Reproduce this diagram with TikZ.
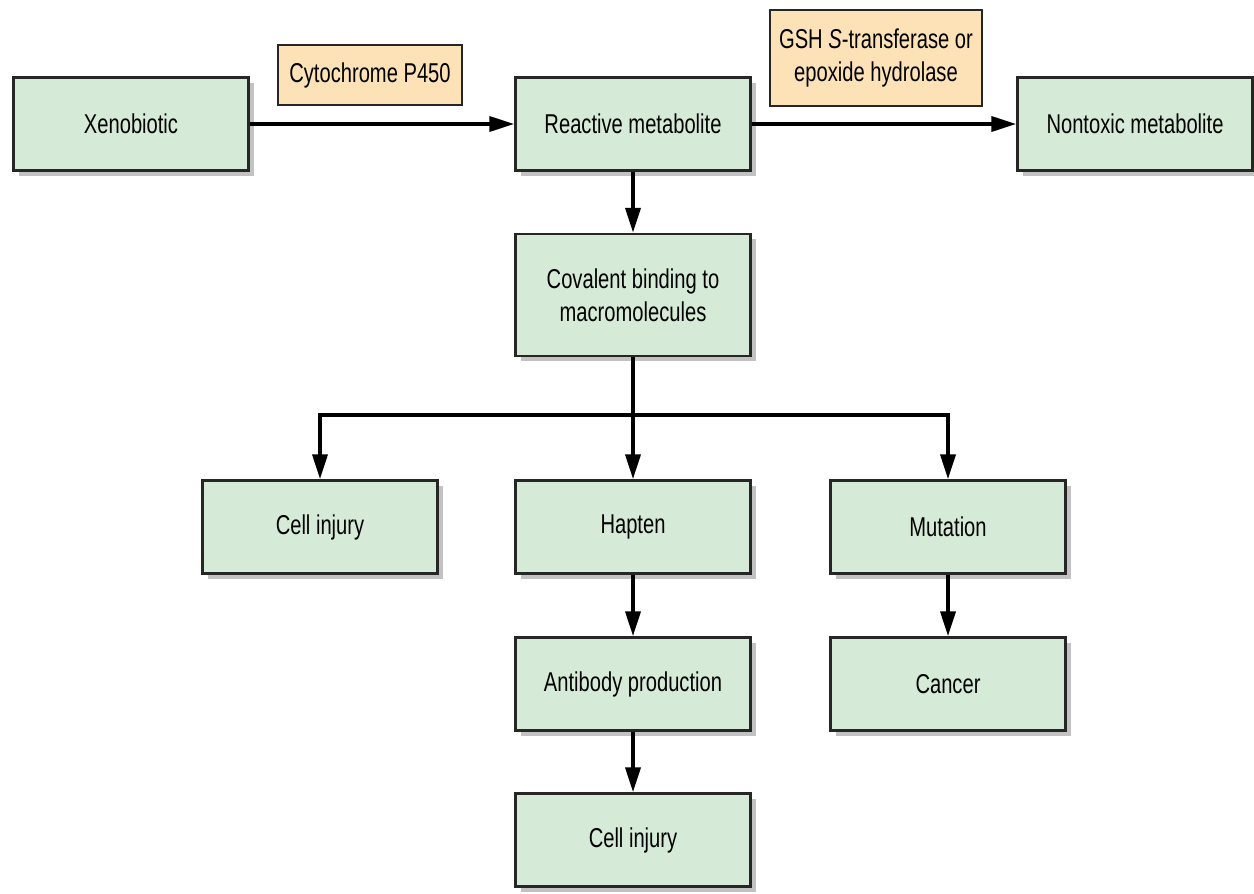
\documentclass[tikz,border=0pt]{standalone}
\usepackage{fontspec}
\setmainfont[FakeStretch=0.74]{Liberation Sans}
\usetikzlibrary{arrows.meta,shadows}

\definecolor{boxgreen}{HTML}{D6EBD7}
\definecolor{enzpeach}{HTML}{FCE2B6}

\begin{document}
\begin{tikzpicture}[
    stage/.style={draw=black!85, line width=1.4pt, fill=boxgreen, minimum width=4.7cm,
        minimum height=1.86cm, inner sep=2pt, align=center, font=\fontsize{15.5}{19}\selectfont,
        drop shadow={shadow xshift=0.1cm, shadow yshift=-0.1cm, fill=black!40, opacity=0.6}},
    enzyme/.style={draw=black!85, line width=1.4pt, fill=enzpeach, inner sep=3pt,
        align=center, font=\fontsize{15.5}{19}\selectfont},
    flow/.style={line width=2.1pt, -{Triangle[length=0.5cm, width=0.3cm]}}
]
            \useasboundingbox (0,0) rectangle (25.08,-17.86);

            % top row
            \node[stage] (xeno) at (2.62,-2.48) {Xenobiotic};
            \node[stage] (react) at (12.66,-2.48) {Reactive metabolite};
            \node[stage] (nontox) at (22.7,-2.48) {Nontoxic metabolite};
            \node[enzyme, minimum width=3.68cm, minimum height=1.2cm] (cyp) at (7.4,-1.5) {Cytochrome P450};
            \node[enzyme, minimum width=4.24cm, minimum height=1.92cm] (gsh) at (17.52,-1.16)
                {GSH \emph{S}-transferase or\\ epoxide hydrolase};

            % binding and its outcomes
            \node[stage, minimum height=2.44cm] (cov) at (12.66,-5.9) {Covalent binding to\\ macromolecules};
            \coordinate (split) at (12.66,-8.3);
            \node[stage] (injA) at (6.4,-10.54) {Cell injury};
            \node[stage] (hap) at (12.66,-10.54) {Hapten};
            \node[stage] (mut) at (18.96,-10.54) {Mutation};
            \node[stage] (ab) at (12.66,-13.68) {Antibody production};
            \node[stage] (cancer) at (18.96,-13.68) {Cancer};
            \node[stage] (injB) at (12.66,-16.8) {Cell injury};

            \draw[flow] (xeno) -- (react);
            \draw[flow] (react) -- (nontox);
            \draw[flow] (react) -- (cov);
            \draw[line width=2.1pt] (cov) -- (split);
            \draw[flow] (split) -| (injA);
            \draw[flow] (split) -- (hap);
            \draw[flow] (split) -| (mut);
            \draw[flow] (hap) -- (ab);
            \draw[flow] (ab) -- (injB);
            \draw[flow] (mut) -- (cancer);
        \end{tikzpicture}
\end{document}
